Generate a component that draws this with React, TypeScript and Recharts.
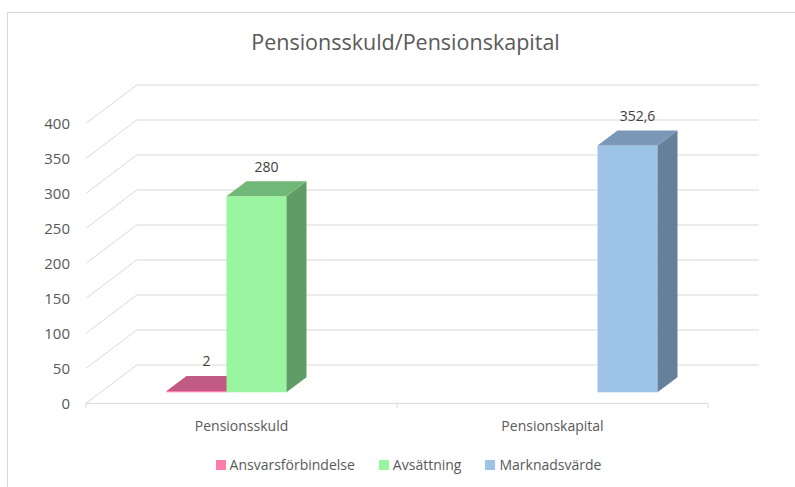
import React from 'react';
import { BarChart, Bar, XAxis, YAxis, CartesianGrid, Legend, LabelList } from 'recharts';

const categories = ['Pensionsskuld', 'Pensionskapital'];
const ansvarsforbindelse = [2, null];
const avsattning = [280, null];
const marknadsvarde = [null, 352.6];
const yTicks = [0, 50, 100, 150, 200, 250, 300, 350, 400];

const seriesNames = ['Ansvarsförbindelse', 'Avsättning', 'Marknadsvärde'];

const data = categories.map((name, i) => ({
  name,
  ansv: ansvarsforbindelse[i],
  avs: avsattning[i],
  mark: marknadsvarde[i]
}));

// colours for the three faces of each 3d column
const series = [
  { key: 'ansv', name: seriesNames[0], front: '#FF7BAC', top: '#C15B83', side: '#A2496D' },
  { key: 'avs', name: seriesNames[1], front: '#99F59F', top: '#70B878', side: '#5F9C66' },
  { key: 'mark', name: seriesNames[2], front: '#9DC3E6', top: '#7A97B8', side: '#64809B' }
];

const W = 795;
const H = 487;
const FONT = '"Open Sans", sans-serif';
const TEXT = '#595959';
const GRID = '#D9D9D9';

// the bars stand in a plane between the front floor edge and the back wall
const FRONT = { dx: -14.5, dy: 11 };
const BACK = { dx: 36.2, dy: -27.3 };
const BAR_DEPTH = { dx: 20, dy: -15 };
const PLOT_BOTTOM = 392.3;
const Y_AXIS_W = 40;
const X_AXIS_H = 40;

const fmt = (v: number) => String(v).replace('.', ',');

const Column3D = (props: any) => {
  const { x, y, width, height, payload, dataKey, front, top, side } = props;
  if (payload == null || payload[dataKey] == null) return null;
  const { dx, dy } = BAR_DEPTH;
  const topPts = `${x},${y} ${x + width},${y} ${x + width + dx},${y + dy} ${x + dx},${y + dy}`;
  const sidePts = `${x + width},${y} ${x + width + dx},${y + dy} ${x + width + dx},${y + height + dy} ${x + width},${y + height}`;
  return (
    <g>
      <rect x={x} y={y} width={width} height={Math.max(height, 0.5)} fill={front} />
      <polygon points={sidePts} fill={side} />
      <polygon points={topPts} fill={top} />
    </g>
  );
};

const GridLine = (props: any) => {
  const { x1, x2, y1 } = props;
  const fx1 = x1 + FRONT.dx;
  const fx2 = x2 + FRONT.dx;
  const fy = y1 + FRONT.dy;
  const bx1 = x1 + BACK.dx;
  const bx2 = x2 + BACK.dx;
  const by = y1 + BACK.dy;
  const isFloor = Math.abs(y1 - PLOT_BOTTOM) < 1;
  const n = categories.length;
  return (
    <g key={props.key}>
      <line x1={fx1} y1={fy} x2={bx1} y2={by} stroke={GRID} strokeWidth={1} />
      <line x1={bx1} y1={by} x2={bx2} y2={by} stroke={GRID} strokeWidth={1} />
      {isFloor && <line x1={fx1} y1={fy} x2={fx2} y2={fy} stroke={GRID} strokeWidth={1} />}
      {isFloor &&
        Array.from({ length: n + 1 }, (_, k) => {
          const tx = fx1 + ((fx2 - fx1) * k) / n;
          return <line key={k} x1={tx} y1={fy} x2={tx} y2={fy + 5} stroke={GRID} strokeWidth={1} />;
        })}
    </g>
  );
};

const YTick = (props: any) => (
  <text x={70} y={props.y + FRONT.dy} textAnchor="end" dominantBaseline="central"
    fontFamily={FONT} fontSize={15} fill={TEXT}>
    {props.payload.value}
  </text>
);

const XTick = (props: any) => (
  <text x={props.x + FRONT.dx} y={425} textAnchor="middle" dominantBaseline="central"
    fontFamily={FONT} fontSize={14} fill={TEXT}>
    {props.payload.value}
  </text>
);

const ValueLabel = (props: any) => {
  const { x, y, width, value } = props;
  if (value == null) return null;
  return (
    <text x={x + width / 2 + 10} y={y - 30} textAnchor="middle" dominantBaseline="central"
      fontFamily={FONT} fontSize={14} fill="#404040">
      {fmt(value)}
    </text>
  );
};

const LegendContent = () => (
  <div style={{ display: 'flex', justifyContent: 'center', paddingLeft: 22, fontFamily: FONT, fontSize: 14, color: TEXT }}>
    {series.map((s, i) => (
      <div key={s.key} style={{ display: 'flex', alignItems: 'center', marginRight: i < series.length - 1 ? 24 : 0 }}>
        <span style={{ width: 10, height: 10, background: s.front, marginRight: 4, display: 'inline-block' }} />
        <span>{s.name}</span>
      </div>
    ))}
  </div>
);

export default function App() {
  return (
    <div style={{ position: 'relative', width: W, height: H, overflow: 'hidden', background: '#fff' }}>
      <style>{'body{margin:0}'}</style>
      <div style={{ position: 'absolute', left: 7, top: 12, width: W, height: H, borderLeft: `1px solid ${GRID}`, borderTop: `1px solid ${GRID}` }} />
      <div style={{ position: 'absolute', left: 0, top: 31, width: 811, textAlign: 'center', fontFamily: FONT, fontSize: 21.5, lineHeight: '22px', color: TEXT }}>
        Pensionsskuld/Pensionskapital
      </div>
      <BarChart width={W} height={H} data={data} barGap={0} barSize={60}
        margin={{ top: 112.3, right: 72.5, bottom: H - PLOT_BOTTOM - X_AXIS_H, left: 100.5 - Y_AXIS_W }}>
        <CartesianGrid vertical={false} horizontal={(p: any) => <GridLine {...p} />} />
        <XAxis dataKey="name" height={X_AXIS_H} axisLine={false} tickLine={false} tick={<XTick />} interval={0} />
        <YAxis width={Y_AXIS_W} domain={[0, 400]} ticks={yTicks} axisLine={false} tickLine={false} tick={<YTick />} interval={0} />
        <Legend verticalAlign="middle" align="center" content={<LegendContent />}
          wrapperStyle={{ top: 455, left: 0, width: W }} />
        {series.map((s) => (
          <Bar key={s.key} dataKey={s.key} name={s.name} fill={s.front} isAnimationActive={false}
            shape={(p: any) => <Column3D {...p} dataKey={s.key} front={s.front} top={s.top} side={s.side} />}>
            <LabelList dataKey={s.key} content={<ValueLabel />} />
          </Bar>
        ))}
      </BarChart>
    </div>
  );
}
